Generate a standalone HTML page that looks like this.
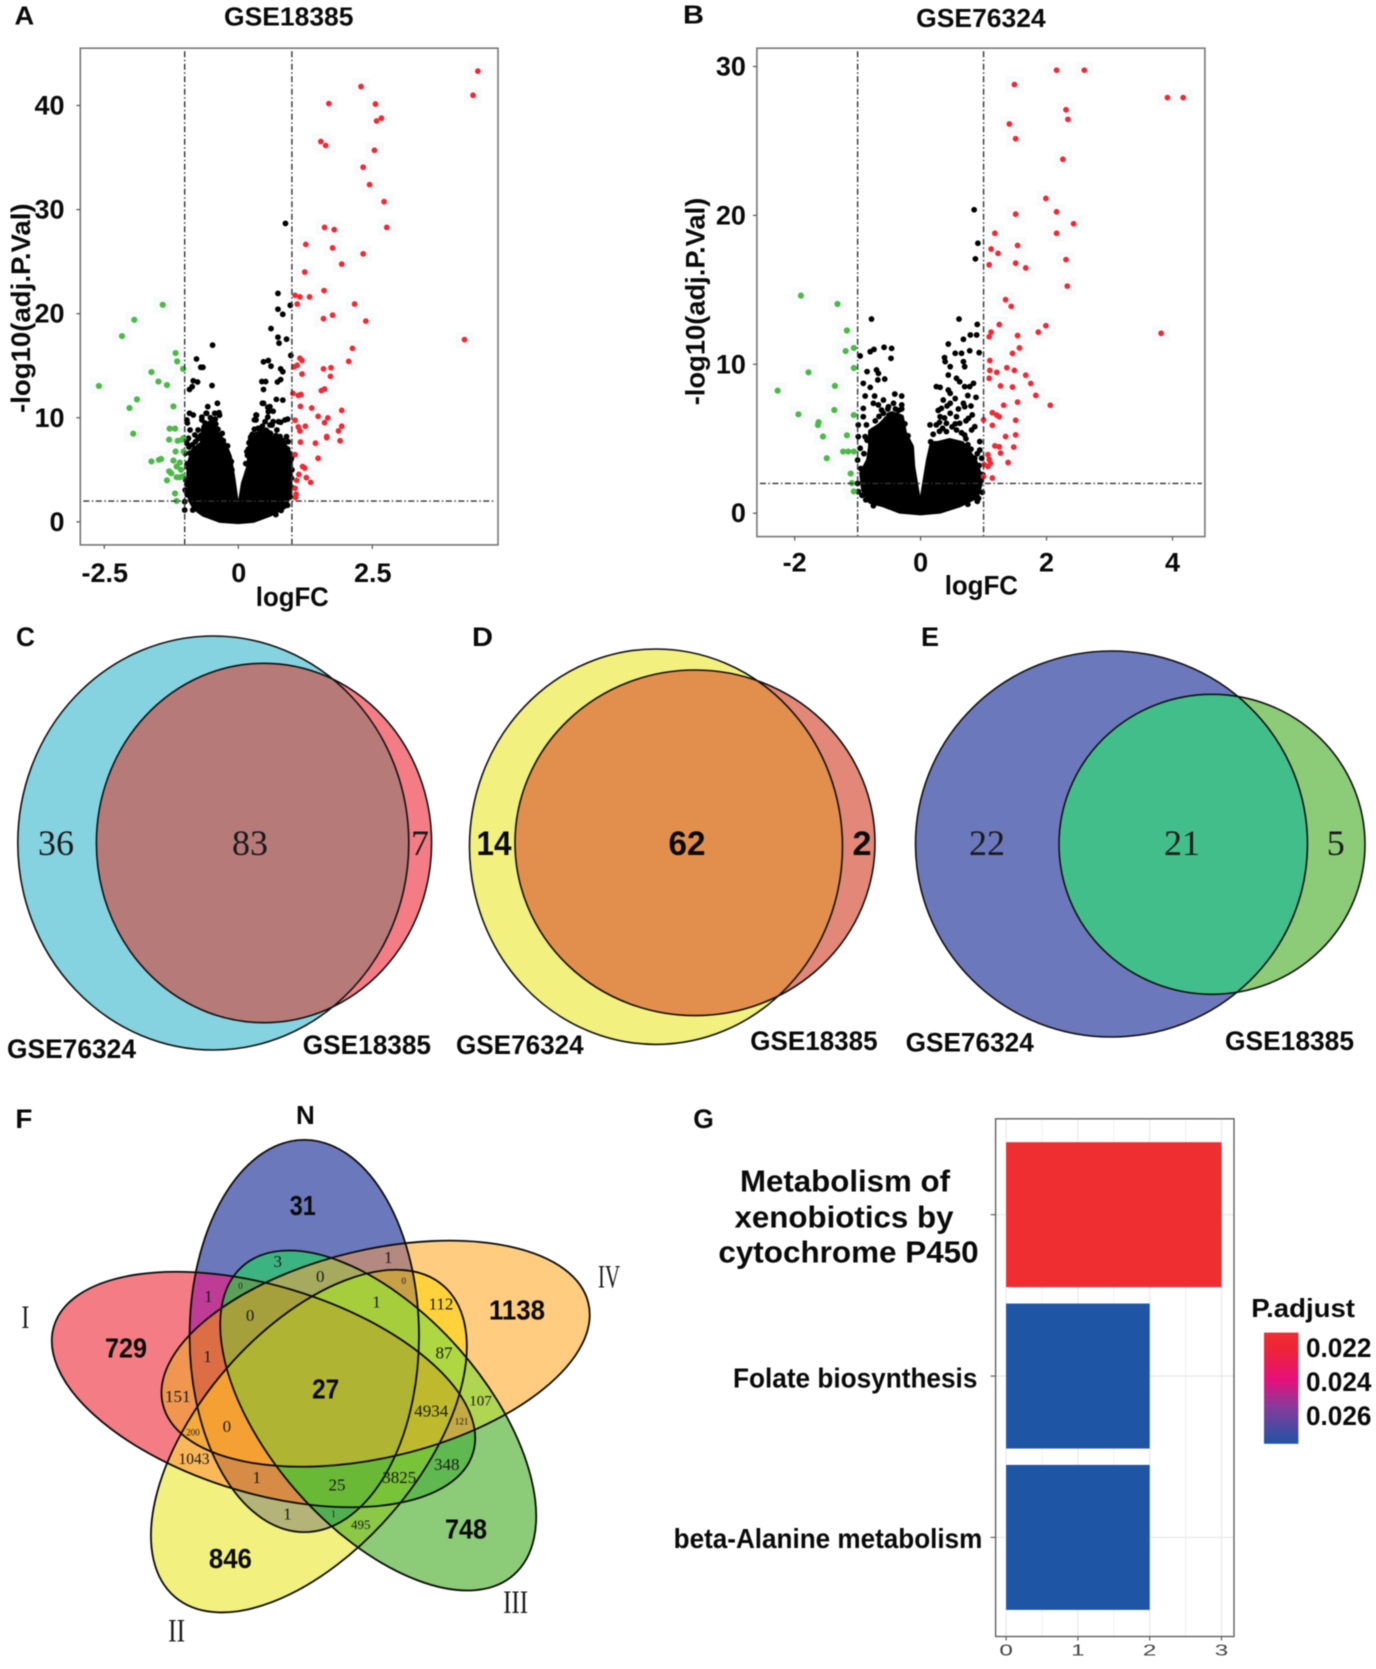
<!DOCTYPE html>
<html lang="en">
<head>
<meta charset="utf-8">
<title>Volcano plots, Venn diagrams and enrichment chart</title>
<style>
html,body{margin:0;padding:0;background:#fff;}
svg{display:block;filter:blur(0.4px);}
.s{font-family:"Liberation Sans",sans-serif;font-weight:bold;fill:#0a0a0a;}
.r{font-family:"Liberation Serif",serif;fill:#1a1a1a;}
.m{text-anchor:middle;}
</style>
</head>
<body>
<svg id="fig" xmlns="http://www.w3.org/2000/svg" width="1376" height="1669" viewBox="0 0 1376 1669">
<defs>
<clipPath id="vcBlue"><ellipse cx="213.3" cy="843" rx="195.5" ry="207"/></clipPath>
<clipPath id="vdYellow"><ellipse cx="656" cy="846.7" rx="186.5" ry="197.7"/></clipPath>
<clipPath id="veBlue"><ellipse cx="1111.5" cy="844" rx="196" ry="193"/></clipPath>
<linearGradient id="padjGrad" x1="0" y1="0" x2="0" y2="1">
<stop offset="0" stop-color="#EE2E30"/><stop offset="0.15" stop-color="#EE2438"/><stop offset="0.42" stop-color="#E6107A"/><stop offset="0.66" stop-color="#8A3A9A"/><stop offset="1" stop-color="#1F55A5"/>
</linearGradient>
</defs>
<rect width="1376" height="1669" fill="#fff"/>

<g id="panelA"></g>
<g id="panelB"></g>

<text class="s" x="14.5" y="24.5" font-size="26" textLength="19.7" lengthAdjust="spacingAndGlyphs">A</text>
<text class="s" x="224" y="25.3" font-size="26" textLength="129.5" lengthAdjust="spacingAndGlyphs">GSE18385</text>
<text class="s" x="255.8" y="606" font-size="27" textLength="73" lengthAdjust="spacingAndGlyphs">logFC</text>
<text class="s" transform="translate(29.8,413) rotate(-90)" font-size="27" textLength="209.6" lengthAdjust="spacingAndGlyphs">-log10(adj.P.Val)</text>

<text class="s" x="683" y="23.7" font-size="26" textLength="21" lengthAdjust="spacingAndGlyphs">B</text>
<text class="s" x="916.2" y="26.9" font-size="26" textLength="129.5" lengthAdjust="spacingAndGlyphs">GSE76324</text>
<text class="s" x="944.7" y="594.3" font-size="27" textLength="73.3" lengthAdjust="spacingAndGlyphs">logFC</text>
<text class="s" transform="translate(704.7,405.3) rotate(-90)" font-size="27" textLength="207.6" lengthAdjust="spacingAndGlyphs">-log10(adj.P.Val)</text>

<!-- Panel C -->
<g>
<ellipse cx="213.3" cy="843" rx="195.5" ry="207" fill="#85D3E0"/>
<ellipse cx="264" cy="843" rx="167.6" ry="179.7" fill="#F47C85"/>
<ellipse cx="264" cy="843" rx="167.6" ry="179.7" fill="#B67A78" clip-path="url(#vcBlue)"/>
<ellipse cx="213.3" cy="843" rx="195.5" ry="207" fill="none" stroke="#111" stroke-width="1.6"/>
<ellipse cx="264" cy="843" rx="167.6" ry="179.7" fill="none" stroke="#111" stroke-width="1.6"/>
<text class="r m" x="56" y="855" font-size="36">36</text>
<text class="r m" x="250" y="855" font-size="36">83</text>
<text class="r m" x="420" y="855" font-size="36">7</text>
<text class="s" x="7" y="1058" font-size="27" textLength="129" lengthAdjust="spacingAndGlyphs">GSE76324</text>
<text class="s" x="302.8" y="1054" font-size="27" textLength="128.2" lengthAdjust="spacingAndGlyphs">GSE18385</text>
</g>
<text class="s" x="16" y="646" font-size="27" textLength="19" lengthAdjust="spacingAndGlyphs">C</text>

<!-- Panel D -->
<g>
<ellipse cx="656" cy="846.7" rx="186.5" ry="197.7" fill="#F2F07E"/>
<ellipse cx="695" cy="842.8" rx="180" ry="172.8" fill="#E38778"/>
<ellipse cx="695" cy="842.8" rx="180" ry="172.8" fill="#E28E4C" clip-path="url(#vdYellow)"/>
<ellipse cx="656" cy="846.7" rx="186.5" ry="197.7" fill="none" stroke="#111" stroke-width="1.6"/>
<ellipse cx="695" cy="842.8" rx="180" ry="172.8" fill="none" stroke="#111" stroke-width="1.6"/>
<text class="s m" x="494" y="855" font-size="34" textLength="35" lengthAdjust="spacingAndGlyphs">14</text>
<text class="s m" x="687" y="855" font-size="34" textLength="37" lengthAdjust="spacingAndGlyphs">62</text>
<text class="s m" x="862" y="855" font-size="34" textLength="19" lengthAdjust="spacingAndGlyphs">2</text>
<text class="s" x="456" y="1054" font-size="27" textLength="127.6" lengthAdjust="spacingAndGlyphs">GSE76324</text>
<text class="s" x="750.3" y="1050" font-size="27" textLength="127.3" lengthAdjust="spacingAndGlyphs">GSE18385</text>
</g>
<text class="s" x="472" y="646" font-size="27" textLength="21" lengthAdjust="spacingAndGlyphs">D</text>

<!-- Panel E -->
<g>
<ellipse cx="1111.5" cy="844" rx="196" ry="193" fill="#6C78BC"/>
<ellipse cx="1212" cy="844.3" rx="153" ry="150" fill="#8CCB78"/>
<ellipse cx="1212" cy="844.3" rx="153" ry="150" fill="#41BE8A" clip-path="url(#veBlue)"/>
<ellipse cx="1111.5" cy="844" rx="196" ry="193" fill="none" stroke="#111" stroke-width="1.6"/>
<ellipse cx="1212" cy="844.3" rx="153" ry="150" fill="none" stroke="#111" stroke-width="1.6"/>
<text class="r m" x="987" y="855" font-size="36">22</text>
<text class="r m" x="1182" y="855" font-size="36">21</text>
<text class="r m" x="1335.7" y="855" font-size="36">5</text>
<text class="s" x="905.6" y="1051.7" font-size="27" textLength="128.2" lengthAdjust="spacingAndGlyphs">GSE76324</text>
<text class="s" x="1225" y="1050" font-size="27" textLength="129" lengthAdjust="spacingAndGlyphs">GSE18385</text>
</g>
<text class="s" x="921" y="646" font-size="27" textLength="18" lengthAdjust="spacingAndGlyphs">E</text>

<!-- Panel F -->
<g id="vennF"></g>
<g>
<text class="s" x="15.4" y="1128" font-size="27" textLength="17" lengthAdjust="spacingAndGlyphs">F</text>
<text class="s m" x="305.4" y="1124" font-size="26">N</text>
<text class="r m" x="25.4" y="1328" font-size="33" textLength="8" lengthAdjust="spacingAndGlyphs">I</text>
<text class="r m" x="176.6" y="1641.5" font-size="33" textLength="17" lengthAdjust="spacingAndGlyphs">II</text>
<text class="r m" x="515.6" y="1613" font-size="33" textLength="25" lengthAdjust="spacingAndGlyphs">III</text>
<text class="r m" x="609" y="1287.6" font-size="33" textLength="22" lengthAdjust="spacingAndGlyphs">IV</text>
<text class="s m" x="302.8" y="1214.8" font-size="28" textLength="26" lengthAdjust="spacingAndGlyphs">31</text>
<text class="s m" x="126" y="1357.7" font-size="28" textLength="42" lengthAdjust="spacingAndGlyphs">729</text>
<text class="s m" x="517" y="1319.7" font-size="28" textLength="56" lengthAdjust="spacingAndGlyphs">1138</text>
<text class="s m" x="325.6" y="1398.3" font-size="28" textLength="27" lengthAdjust="spacingAndGlyphs">27</text>
<text class="s m" x="230.4" y="1568" font-size="28" textLength="43" lengthAdjust="spacingAndGlyphs">846</text>
<text class="s m" x="466" y="1538.6" font-size="28" textLength="42" lengthAdjust="spacingAndGlyphs">748</text>
<g class="r m" font-size="17">
<text class="r m" x="277.8" y="1267" fill="#1c4a3a">3</text>
<text class="r m" x="208.4" y="1302">1</text>
<text class="r m" x="240.5" y="1289" font-size="9">0</text>
<text class="r m" x="320.3" y="1282">0</text>
<text class="r m" x="388.3" y="1263">1</text>
<text class="r m" x="403.7" y="1284" font-size="9">0</text>
<text class="r m" x="376.5" y="1307.5">1</text>
<text class="r m" x="250.1" y="1321">0</text>
<text class="r m" x="207.5" y="1362">1</text>
<text class="r m" x="441" y="1309.5">112</text>
<text class="r m" x="444" y="1358.5">87</text>
<text class="r m" x="480.5" y="1405.5" font-size="15">107</text>
<text class="r m" x="431.3" y="1416.5">4934</text>
<text class="r m" x="461.6" y="1424.6" font-size="9">121</text>
<text class="r m" x="177.7" y="1402">151</text>
<text class="r m" x="193" y="1435.7" font-size="9">200</text>
<text class="r m" x="226.9" y="1432">0</text>
<text class="r m" x="194" y="1464" font-size="15.5">1043</text>
<text class="r m" x="256.7" y="1483">1</text>
<text class="r m" x="287.4" y="1519.5">1</text>
<text class="r m" x="333.5" y="1517" font-size="9" fill="#1a6a3a">1</text>
<text class="r m" x="360.7" y="1529" font-size="13" fill="#1a6a3a">495</text>
<text class="r m" x="337" y="1490.5" fill="#1a5a3a">25</text>
<text class="r m" x="399.3" y="1483" fill="#1a5a3a">3825</text>
<text class="r m" x="446.7" y="1470" fill="#1a5a3a">348</text>
</g>
</g>

<!-- Panel G -->
<text class="s" x="693.3" y="1128" font-size="27" textLength="20.6" lengthAdjust="spacingAndGlyphs">G</text>
<g id="panelG"></g>
<text class="s" x="1251.3" y="1317.1" font-size="26" textLength="103.7" lengthAdjust="spacingAndGlyphs">P.adjust</text>
<rect x="1264" y="1332.6" width="34.4" height="111.2" fill="url(#padjGrad)"/>

<script>
/* ---------- Panel A data: [logFC, -log10(adj.P.Val)] ---------- */
const aXTicks = [-2.5, 0, 2.5];
const aYTicks = [0, 10, 20, 30, 40];
const aUp = [[4.47,43.30],[4.38,40.98],[2.29,41.82],[1.69,40.18],[2.56,40.14],[2.58,38.51],[2.67,38.78],[1.54,36.54],[1.63,36.16],[2.54,35.70],[2.33,34.07],[2.45,32.40],[2.72,30.76],[2.77,28.29],[1.61,28.29],[1.79,28.07],[1.26,26.66],[1.76,26.32],[2.33,25.75],[1.93,24.76],[1.24,24.00],[1.60,22.22],[1.06,21.76],[1.15,21.61],[1.33,21.61],[1.10,20.93],[2.17,20.93],[1.59,19.52],[1.76,19.86],[2.38,19.29],[4.22,17.51],[2.13,16.67],[2.06,15.42],[1.15,15.72],[1.19,15.50],[1.04,14.89],[1.10,15.04],[1.59,14.70],[1.73,14.81],[1.19,14.20],[1.72,13.98],[1.61,12.76],[1.55,12.61],[1.02,12.34],[1.12,12.15],[1.17,12.23],[1.16,11.09],[1.37,10.94],[1.93,10.71],[1.49,10.14],[1.67,9.99],[1.06,9.76],[1.61,9.53],[1.25,9.19],[1.12,9.12],[1.15,8.74],[1.93,9.19],[1.87,8.74],[1.65,8.20],[1.65,8.09],[1.90,7.79],[1.16,7.67],[1.44,7.56],[1.06,6.46],[1.49,6.11],[1.20,5.32],[1.24,5.17],[1.13,4.56],[1.27,4.25],[1.35,3.80],[1.09,3.99],[1.06,3.23],[1.08,2.66],[1.07,2.35]];
const aDown = [[-1.41,20.85],[-1.94,19.41],[-2.17,17.85],[-1.17,16.22],[-1.14,15.42],[-1.62,14.39],[-1.03,14.70],[-1.49,13.48],[-1.33,13.14],[-2.60,13.06],[-1.89,11.77],[-2.03,10.94],[-1.21,11.09],[-1.96,8.47],[-1.28,8.96],[-1.18,8.96],[-1.29,7.90],[-1.13,7.79],[-1.05,7.90],[-1.02,8.05],[-1.17,6.76],[-1.02,6.76],[-1.21,5.89],[-1.09,5.70],[-1.62,5.81],[-1.48,5.96],[-1.44,6.04],[-1.29,4.86],[-1.25,4.67],[-1.15,5.32],[-1.07,5.01],[-1.33,3.99],[-1.15,4.29],[-1.09,4.29],[-1.03,4.37],[-1.18,2.73],[-1.15,2.01]];
const aOther = [[.88,28.67],[-.48,16.98],[.74,21.95],[.74,20.43],[.83,19.94],[.97,20.81],[.61,18.57],[.74,17.74],[.76,17.17],[.90,17.55],[.98,15.99],[.47,15.38],[.56,15.50],[.61,14.96],[.79,14.70],[.83,14.43],[-.78,15.65],[-.70,14.85],[-.66,14.85],[-.84,13.56],[-.76,13.44],[-.49,13.10],[-.86,12.99],[-.91,12.72],[.44,13.48],[.51,13.48],[.79,13.67],[.73,13.44],[.47,12.72],[.71,11.77],[.83,11.70],[.47,11.39],[.55,11.01],[.65,10.63],[.34,10.25],[.30,9.80],[-.39,11.39],[-.60,10.44],[-.68,10.06],[-.91,10.44],[-.95,9.50],[-.35,10.25],[-.43,9.87],[.92,9.87],[.79,9.57],[.55,10.06],[.63,9.30],[-.57,11.07],[-.44,10.43],[-.36,10.49],[-.59,10.43],[-.96,9.79],[-.84,10.27],[-.68,9.79],[-.47,9.47],[.45,11.39],[.59,11.07],[.56,10.59],[.33,10.27],[.75,9.63],[.87,9.79],[.33,9.79],[.50,9.63],[.65,9.63],[.59,9.31],[.37,8.99],[.93,7.71],[.83,7.80],[.16,6.75],[.98,5.95],[-1.0,1.94],[-.85,1.14],[-1.0,1.14],[.93,2.74],[.87,1.94],[-.90,8.83],[-.96,7.55],[-.81,8.35],[-.99,6.59],[-.98,4.02],[-.99,3.06],[-.93,8.03],[-.75,8.83],[.72,8.83],[.90,8.19],[.99,6.11],[-.95,2.6],[-.96,3.6],[-.93,5.2],[-.95,5.6],[-.9,6.6],[-.92,7.2],[-.86,7.4],[-.8,7.7],[-.75,8.0],[-.7,8.3],[-.62,8.0],[-.58,8.6],[-.55,9.2],[-.62,9.5],[-.52,10.0],[-.42,9.4],[-.38,8.9],[-.3,8.5],[-.28,7.8],[-.2,7.3],[-.2,6.6],[-.13,5.8],[-.12,5.0],[.14,5.6],[.17,6.4],[.19,7.0],[.2,7.6],[.26,8.4],[.3,8.9],[.42,8.9],[.45,9.2],[.52,8.8],[.56,8.6],[.6,8.5],[.7,8.3],[.78,8.2],[.85,7.4],[.92,7.0],[.97,6.5],[1.0,5.0],[.99,4.2],[.98,3.4],[.97,2.4],[.92,1.6],[.8,1.1],[.7,.7]];
const aDenseOutline = [[-.90,2.10],[-.93,4.67],[-.90,5.95],[-.84,6.91],[-.68,7.55],[-.65,9.15],[-.50,9.63],[-.44,8.83],[-.34,8.19],[-.25,7.39],[-.16,6.27],[-.09,4.02],[-.03,1.78],[0,.98],[.03,1.78],[.09,3.70],[.19,5.31],[.22,7.23],[.22,8.19],[.37,8.51],[.47,8.51],[.65,8.03],[.84,7.55],[.96,6.59],[.98,5.31],[.96,2.74],[.87,1.46],[.59,.70],[.28,.12],[0,0],[-.34,.12],[-.65,.70],[-.81,1.30]];

/* ---------- Panel B data: [logFC, -log10(adj.P.Val)] ---------- */
const bXTicks = [-2, 0, 2, 4];
const bYTicks = [0, 10, 20, 30];
const bUp = [[2.16,29.75],[2.60,29.75],[1.49,28.79],[3.92,27.91],[4.17,27.91],[2.31,27.09],[2.34,26.45],[1.41,26.14],[1.51,25.15],[2.26,23.77],[1.99,21.14],[2.16,20.24],[1.51,20.08],[2.43,19.44],[1.18,18.80],[2.16,18.80],[1.54,17.98],[1.12,17.74],[1.23,17.45],[1.09,16.68],[1.51,16.79],[1.67,16.47],[2.31,17.03],[2.33,15.25],[1.35,14.34],[1.44,13.89],[1.25,12.67],[1.99,12.59],[1.87,12.16],[1.12,12.16],[1.09,11.85],[1.54,11.93],[3.82,12.08],[1.57,11.10],[1.46,10.73],[1.10,10.25],[1.10,9.59],[1.21,9.46],[1.37,9.77],[1.49,9.59],[1.67,9.27],[1.09,9.06],[1.27,8.55],[1.46,8.47],[1.75,8.71],[1.83,7.91],[1.54,7.46],[1.32,7.25],[2.06,7.25],[1.14,6.75],[1.21,6.59],[1.25,6.48],[1.0,6.27],[1.51,6.24],[1.14,5.90],[1.35,5.15],[1.51,5.26],[1.18,4.52],[1.25,4.46],[1.48,4.44],[1.27,4.04],[1.39,3.40],[1.07,3.93],[1.09,3.61],[1.01,3.27],[1.07,3.13],[1.11,3.35],[1.00,2.47],[1.14,2.36]];
const bDown = [[-1.90,14.61],[-1.32,14.05],[-1.17,12.27],[-1.19,10.89],[-1.06,11.10],[-1.78,9.46],[-1.06,9.75],[-1.36,8.55],[-2.27,8.23],[-1.94,6.64],[-1.37,6.93],[-1.06,6.59],[-1.62,6.11],[-1.63,5.92],[-1.55,5.15],[-1.17,5.23],[-1.23,4.14],[-1.15,4.14],[-1.06,4.14],[-1.49,3.69],[-1.11,2.66],[-1.09,2.02],[-1.06,1.46]];
const bOther = [[.85,20.38],[.91,18.13],[.87,17.08],[-.78,13.04],[.61,13.04],[.90,12.68],[.79,11.97],[.89,11.97],[.68,11.68],[.44,11.36],[-.80,10.85],[-.74,11.00],[-.58,11.14],[-.46,11.07],[-.47,10.40],[-.96,10.56],[.78,10.91],[.93,10.78],[.55,10.74],[.65,10.74],[.38,10.45],[.39,10.18],[.68,10.18],[.70,9.84],[.47,9.84],[-.70,9.62],[-.67,9.39],[-.85,9.51],[.44,9.28],[.57,9.06],[.62,8.83],[.70,8.50],[.78,8.50],[.84,8.72],[-.57,9.01],[-.68,8.95],[-.91,8.72],[-.80,8.45],[.25,8.50],[.31,8.45],[.44,8.27],[.47,8.05],[-.41,8.00],[-.30,7.87],[-.88,7.87],[-.73,7.87],[.88,7.78],[-.59,7.60],[-.75,7.38],[-.67,7.27],[-.43,7.38],[.36,7.60],[.47,7.38],[.68,7.38],[.70,7.15],[.33,7.04],[-.30,7.27],[-.51,7.15],[-.91,7.04],[-.62,6.93],[.31,6.48],[.47,6.71],[.57,6.48],[.76,6.37],[.41,6.04],[.62,6.04],[.86,5.81],[.15,5.93],[.25,5.93],[-.91,6.48],[-.99,5.93],[-.99,5.14],[-.96,4.36],[.94,4.81],[.94,4.24],[.70,5.25],[.57,5.59],[.41,5.48],[.81,5.59],[-.86,5.93],[-.75,5.59],[-.88,5.14],[-.59,6.71],[-1.0,3.57],[.86,3.69],[.97,3.69],[.99,2.57],[.92,1.78],[.92,1.0],[-1.0,2.0],[-.99,1.45],[-.85,4.9],[-.7,5.3],[-.9,4.0],[-.95,3.0],[-.55,6.3],[-.4,7.0],[-.35,6.9],[-.5,6.6],[-.25,6.0],[-.2,5.2],[-.72,6.2],[-.66,6.5],[-.52,7.0],[-.3,7.0],[-.6,5.9],[-.93,1.2],[-.87,.9],[-.75,.5],[.16,4.8],[.2,5.3],[.3,5.5],[.35,5.7],[.5,5.8],[.55,6.0],[.65,5.4],[.72,5.0],[.75,4.6],[.8,4.3],[.9,4.0],[.93,3.2],[.98,2.6],[.98,1.4],[.9,.8],[.75,.6],[.3,6.1],[.38,6.4],[.72,6.2],[.82,6.6],[.6,7.0],[.8,7.2],[.42,7.2],[.55,7.7],[.75,7.9],[.28,6.9]];
const bDenseOutline = [[-.80,.77],[-.91,1.56],[-.94,2.68],[-.83,3.57],[-.80,4.47],[-.80,5.50],[-.65,5.90],[-.46,6.71],[-.30,6.48],[-.25,5.36],[-.14,4.47],[-.12,3.13],[-.04,1.11],[0,.44],[.05,1.78],[.12,3.57],[.18,4.69],[.27,4.70],[.46,4.90],[.66,4.70],[.86,3.57],[.97,2.23],[.89,1.11],[.62,.54],[.31,.12],[0,0],[-.33,.12],[-.59,.54]];

/* ---------- Panel G data ---------- */
const gCategories = [["Metabolism of","xenobiotics by","cytochrome P450"],["Folate biosynthesis"],["beta-Alanine metabolism"]];
const gCounts = [3, 2, 2];
const gPAdjust = [0.022, 0.026, 0.026];
const gXTicks = [0, 1, 2, 3];
const gLegendTicks = [0.022, 0.024, 0.026];

/* ---------- Panel F sets and region colours ---------- */
const fSetNames = ["N","I","II","III","IV"];
const fRegionSets = [["N"],["I"],["II"],["III"],["IV"],
["N","I"],["N","III"],["N","IV"],["N","II"],["I","II"],["I","III"],["I","IV"],["II","III"],["II","IV"],["III","IV"],
["N","I","III"],["N","III","IV"],["N","II","IV"],["N","I","IV"],["N","I","II"],["N","II","III"],["I","II","IV"],["I","II","III"],["I","III","IV"],["II","III","IV"],
["N","I","III","IV"],["N","I","II","IV"],["N","I","II","III"],["N","II","III","IV"],["I","II","III","IV"],
["N","I","II","III","IV"]];
const fRegionColors = ["#6C78BC","#F47C85","#F2F07E","#8CCB78","#FFCC80",
"#BE3C96","#3CB482","#B48A80","#B4B478","#FAB85A","#5FB950","#F09650","#8AC846","#FFD23C","#B0D550",
"#5AA05A","#A5AA5F","#C8A046","#DC6E46","#D78C46","#50AF50","#F5AA3C","#78C337","#C3AA46","#AFD741",
"#A5A03C","#F5A032","#69B937","#A5CD3C","#BEB92D",
"#AFB432"];

const NS = "http://www.w3.org/2000/svg";
function make(parent, tag, attrs, txt) {
  const el = document.createElementNS(NS, tag);
  for (const k in attrs) el.setAttribute(k, attrs[k]);
  if (txt !== undefined) el.textContent = txt;
  parent.appendChild(el);
  return el;
}
const FONT = '"Liberation Sans",sans-serif';

function drawVolcano(g, cfg) {
  const x = cfg.x, y = cfg.y, f = cfg.frame;
  const cloud = make(g, "polygon", {
    points: cfg.outline.map(p => x(p[0]) + "," + y(p[1])).join(" "),
    fill: "#000", stroke: "#000", "stroke-width": 4.4, "stroke-linejoin": "round"
  });
  
  
  const groups = [[cfg.other, "#000", 2.9], [cfg.down, "#4DB848", 3.1], [cfg.up, "#EE2A35", 2.9]];
  groups.forEach(function (grp) {
    if (grp[1] !== "#000") {
      grp[0].forEach(function (p) {
        const h = make(g, "rect", { x: x(p[0]) - 9, y: y(p[1]) - 8, width: 18, height: 16, fill: "#f8fafb" });
        
        
        g.insertBefore(h, cloud);
      });
    }
  });
  groups.forEach(function (grp) {
    grp[0].forEach(function (p) {
      const c = make(g, "circle", { cx: x(p[0]), cy: y(p[1]), r: grp[2], fill: grp[1] });
      
      
    });
  });
  const dash = { stroke: "#333", "stroke-width": 1.4, "stroke-dasharray": "6 2.5 1.5 2.5", fill: "none" };
  [-1, 1].forEach(function (v) {
    const l = make(g, "line", Object.assign({ x1: x(v), x2: x(v), y1: f.top + 3, y2: f.bottom }, dash));
    
    
  });
  const hl = make(g, "line", Object.assign({ x1: f.left + 3, x2: f.right - 3, y1: y(2), y2: y(2) }, dash));
  
  
  const fr = make(g, "rect", { x: f.left, y: f.top, width: f.right - f.left, height: f.bottom - f.top, fill: "none", stroke: "#777", "stroke-width": 1.6 });
  
  
  cfg.xTicks.forEach(function (v) {
    const t = make(g, "line", { x1: x(v), x2: x(v), y1: f.bottom, y2: f.bottom + 4, stroke: "#555", "stroke-width": 1.2 });
    
    
    const lb = make(g, "text", { x: x(v) + cfg.xLabelShift, y: cfg.xLabelY, "text-anchor": "middle", "font-family": FONT, "font-weight": "bold", "font-size": 27, fill: "#0a0a0a" }, String(v));
    
    
  });
  cfg.yTicks.forEach(function (v) {
    const t = make(g, "line", { x1: f.left - 4, x2: f.left, y1: y(v), y2: y(v), stroke: "#555", "stroke-width": 1.2 });
    
    
    const lb = make(g, "text", { x: cfg.yLabelX, y: y(v) + 9, "text-anchor": "end", "font-family": FONT, "font-weight": "bold", "font-size": 27, fill: "#0a0a0a" }, String(v));
    
    
  });
}

drawVolcano(document.getElementById("panelA"), {
  x: v => 238.3 + 53.6 * v, y: v => 521.9 - 10.41 * v,
  frame: { left: 80.3, right: 498, top: 48.2, bottom: 544.9 },
  up: aUp, down: aDown, other: aOther, outline: aDenseOutline,
  xTicks: aXTicks, yTicks: aYTicks, xLabelY: 582, xLabelShift: 0.5, yLabelX: 64.5
});
drawVolcano(document.getElementById("panelB"), {
  x: v => 920.6 + 62.97 * v, y: v => 513.2 - 14.89 * v,
  frame: { left: 756.9, right: 1204.9, top: 48.2, bottom: 536.6 },
  up: bUp, down: bDown, other: bOther, outline: bDenseOutline,
  xTicks: bXTicks, yTicks: bYTicks, xLabelY: 571.4, xLabelShift: 0, yLabelX: 745.9
});

/* ---------- Five-set Venn ---------- */
(function () {
  const g = document.getElementById("vennF");
  const defs = document.querySelector("defs");
  const shapes = {
    N: { cx: 304.3, cy: 1336, rx: 114.7, ry: 196.1, rot: 0 },
    I: { cx: 263.5, cy: 1389.5, rx: 218.9, ry: 103.7, rot: 16.8 },
    II: { cx: 308.9, cy: 1441.1, rx: 109.8, ry: 205.5, rot: 40.8 },
    III: { cx: 378.2, cy: 1420.5, rx: 108, ry: 205.4, rot: -41.3 },
    IV: { cx: 375.6, cy: 1353.7, rx: 218.7, ry: 103.9, rot: -13.4 }
  };
  function ellAttrs(s) {
    return { cx: s.cx, cy: s.cy, rx: s.rx, ry: s.ry, transform: "rotate(" + s.rot + " " + s.cx + " " + s.cy + ")" };
  }
  fSetNames.forEach(function (n) {
    const cp = make(defs, "clipPath", { id: "clip" + n });
    make(cp, "ellipse", ellAttrs(shapes[n]));
  });
  fRegionSets.forEach(function (sets, i) {
    let parent = g;
    sets.forEach(function (n) {
      parent = make(parent, "g", { "clip-path": "url(#clip" + n + ")" });
    });
    const r = make(parent, "rect", { x: 0, y: 1100, width: 640, height: 569, fill: fRegionColors[i] });
    
    
  });
  fSetNames.forEach(function (n) {
    const e = make(g, "ellipse", Object.assign(ellAttrs(shapes[n]), { fill: "none", stroke: "#0c0c0c", "stroke-width": 1.8 }));
    
    
  });
})();

/* ---------- Bar chart ---------- */
(function () {
  const g = document.getElementById("panelG");
  const x = v => 1006.1 + 71.8 * v;
  const yBand = i => 1214.7 + 161.35 * i;
  const barH = 145;
  const color = p => (p < 0.024 ? "#EE2E30" : "#1F55A5");
  const f = { left: 995.6, right: 1234, top: 1118.8, bottom: 1636.5 };
  gXTicks.forEach(function (v) {
    const l = make(g, "line", { x1: x(v), x2: x(v), y1: f.top, y2: f.bottom, stroke: "#e6e6e6", "stroke-width": 1.1 });
    
    
    if (v < 3) {
      const m = make(g, "line", { x1: x(v + 0.5), x2: x(v + 0.5), y1: f.top, y2: f.bottom, stroke: "#f0f0f0", "stroke-width": 1 });
      
      
    }
  });
  gCounts.forEach(function (v, i) {
    const gl = make(g, "line", { x1: f.left, x2: f.right, y1: yBand(i), y2: yBand(i), stroke: "#e6e6e6", "stroke-width": 1.1 });
    
    
    const b = make(g, "rect", { x: x(0), y: yBand(i) - barH / 2, width: x(v) - x(0), height: barH, fill: color(gPAdjust[i]) });
    
    
    const t = make(g, "line", { x1: f.left - 5, x2: f.left, y1: yBand(i), y2: yBand(i), stroke: "#555", "stroke-width": 1.1 });
    
    
  });
  const fr = make(g, "rect", { x: f.left, y: f.top, width: f.right - f.left, height: f.bottom - f.top, fill: "none", stroke: "#555", "stroke-width": 1.3 });
  
  
  gXTicks.forEach(function (v) {
    const t = make(g, "line", { x1: x(v), x2: x(v), y1: f.bottom, y2: f.bottom + 4, stroke: "#555", "stroke-width": 1.1 });
    
    
    const lb = make(g, "text", { x: x(v), y: 1655.5, "text-anchor": "middle", "font-family": FONT, "font-size": 16, fill: "#444", textLength: 13.5, lengthAdjust: "spacingAndGlyphs" }, String(v));
    
    
  });
  const catLayout = [
    [[845, 1191.5, 210], [844, 1227.4, 219], [848.5, 1262.4, 260.3]],
    [[855.2, 1387.3, 244.4]],
    [[828, 1547.9, 308.7]]
  ];
  gCategories.forEach(function (lines, i) {
    lines.forEach(function (s, j) {
      const p = catLayout[i][j];
      const t = make(g, "text", { x: p[0], y: p[1], "text-anchor": "middle", "font-family": FONT, "font-weight": "bold", "font-size": lines.length > 1 ? 31 : 28, fill: "#0a0a0a", textLength: p[2], lengthAdjust: "spacingAndGlyphs" }, s);
      
      
    });
  });
  const ly = v => 1349.6 + (v - 0.022) * (1411.3 - 1349.6) / 0.004;
  const lbY = v => 1357 + (v - 0.022) * 34 / 0.002;
  gLegendTicks.forEach(function (v) {
    const a = make(g, "line", { x1: 1264, x2: 1271, y1: ly(v), y2: ly(v), stroke: "#fff", "stroke-width": 1, "stroke-opacity": 0.7 });
    
    
    const c = make(g, "line", { x1: 1291.4, x2: 1298.4, y1: ly(v), y2: ly(v), stroke: "#fff", "stroke-width": 1, "stroke-opacity": 0.7 });
    
    
    const lb = make(document.getElementById("fig"), "text", { x: 1306, y: lbY(v), "font-family": FONT, "font-weight": "bold", "font-size": 27, fill: "#0a0a0a", textLength: 65.4, lengthAdjust: "spacingAndGlyphs" }, v.toFixed(3));
    
    
  });
})();
</script>
</svg>
</body>
</html>
